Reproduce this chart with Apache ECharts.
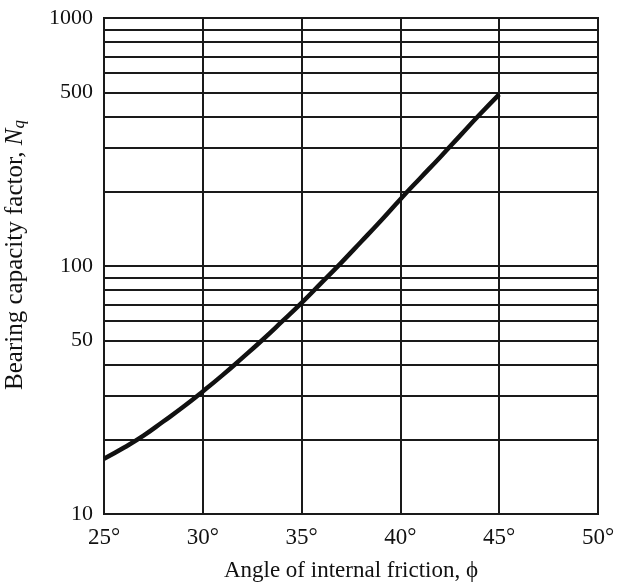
<!DOCTYPE html>
<html>
<head>
<meta charset="utf-8">
<style>
  html, body { margin: 0; padding: 0; background: #fff; }
  #chart { width: 617px; height: 582px; }
</style>
<script src="https://cdn.jsdelivr.net/npm/echarts@6/dist/echarts.min.js"></script>
</head>
<body>
<div id="chart"></div>
<script>
// friction angle (deg) and bearing capacity factor Nq
var angles = [25, 26, 27, 28, 29, 30, 31, 32, 33, 34, 35, 36, 37, 38, 39, 40, 41, 42, 43, 44, 45]
var nqValues = [16.7, 18.5, 20.7, 23.6, 27, 31.2, 36.3, 42.6, 50.2, 59.6, 71, 85.5, 103, 125, 152, 186, 226, 274, 334, 407, 492]
// horizontal grid lines on the log axis
var gridValues = [20, 30, 40, 50, 60, 70, 80, 90, 200, 300, 400, 500, 600, 700, 800, 900]
var yLabels = [10, 50, 100, 500, 1000]

var serif = 'Liberation Serif'
var myChart = echarts.init(document.getElementById('chart'))

var option = {
  backgroundColor: '#ffffff',
  animation: false,
  grid: {
    left: 104,
    right: 19,
    top: 18,
    bottom: 68,
    show: true,
    borderColor: '#1a1a1a',
    borderWidth: 2,
    containLabel: false,
    outerBoundsMode: 'none'
  },
  xAxis: {
    type: 'value',
    min: 25,
    max: 50,
    interval: 5,
    name: 'Angle of internal friction, ϕ',
    nameLocation: 'middle',
    nameGap: 45,
    nameTextStyle: { color: '#111', fontFamily: serif, fontSize: 23 },
    axisLine: { show: true, lineStyle: { color: '#1a1a1a', width: 2 } },
    axisTick: { show: false },
    axisLabel: {
      color: '#111',
      fontFamily: serif,
      fontSize: 23,
      margin: 12,
      formatter: function (v) { return v + '°' }
    },
    splitLine: { show: true, lineStyle: { color: '#1a1a1a', width: 2 } }
  },
  yAxis: {
    type: 'log',
    logBase: 10,
    min: 10,
    max: 1000,
    name: 'Bearing capacity factor, {i|N}{s|q}',
    nameLocation: 'middle',
    nameGap: 76,
    nameRotate: 90,
    nameTextStyle: {
      color: '#111',
      fontFamily: serif,
      fontSize: 25,
      padding: [0, 0, 0, 22],
      rich: {
        i: { fontFamily: serif, fontSize: 25, fontStyle: 'italic', color: '#111' },
        s: { fontFamily: serif, fontSize: 17, fontStyle: 'italic', color: '#111', verticalAlign: 'bottom', padding: [9, 0, 0, 0] }
      }
    },
    axisLine: { show: true, lineStyle: { color: '#1a1a1a', width: 2 } },
    axisTick: { show: false },
    axisLabel: {
      customValues: yLabels,
      color: '#111',
      fontFamily: serif,
      fontSize: 22,
      margin: 11,
      formatter: function (v) { return String(v) }
    },
    splitLine: { show: true, lineStyle: { color: '#1a1a1a', width: 2 } }
  },
  series: [{
    type: 'line',
    data: angles.map(function (a, i) { return [a, nqValues[i]] }),
    smooth: true,
    showSymbol: false,
    lineStyle: { color: '#111', width: 4.5 },
    z: 10,
    markLine: {
      silent: true,
      symbol: 'none',
      label: { show: false },
      lineStyle: { color: '#1a1a1a', width: 2, type: 'solid' },
      data: gridValues.map(function (v) { return { yAxis: v } })
    }
  }]
}

myChart.setOption(option)
</script>
</body>
</html>
